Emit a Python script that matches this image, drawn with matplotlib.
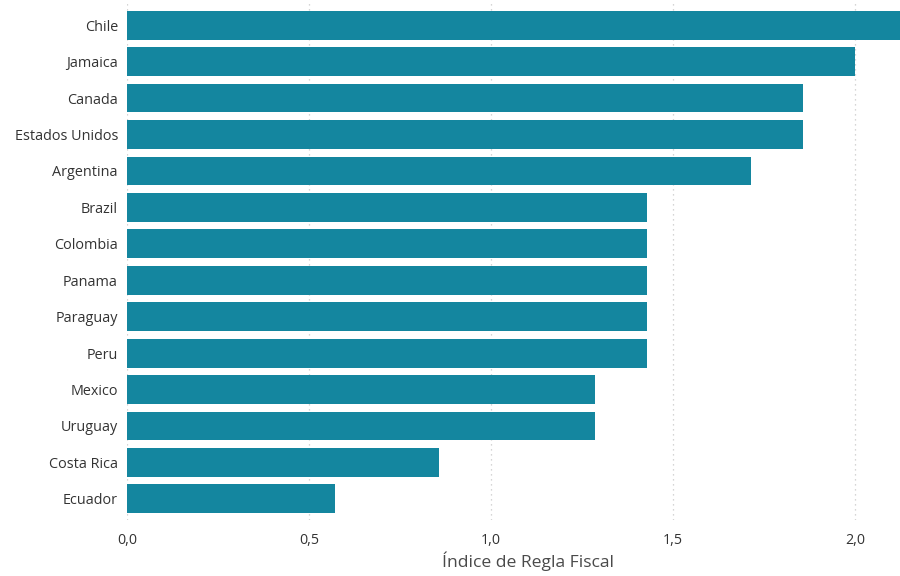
import matplotlib
matplotlib.use("Agg")
import matplotlib.pyplot as plt
from matplotlib.ticker import FuncFormatter

countries = ["Chile", "Jamaica", "Canada", "Estados Unidos", "Argentina", "Brazil",
             "Colombia", "Panama", "Paraguay", "Peru", "Mexico", "Uruguay",
             "Costa Rica", "Ecuador"]
index_values = [2.143, 2.0, 1.857, 1.857, 1.714, 1.429, 1.429, 1.429, 1.429, 1.429,
                1.286, 1.286, 0.857, 0.571]
x_ticks = [0.0, 0.5, 1.0, 1.5, 2.0]

plt.rcParams["font.family"] = ["Open Sans", "DejaVu Sans"]

fig = plt.figure(figsize=(9, 5.76), dpi=100)
ax = fig.add_axes([0.1411, 0.0972, 0.8589, 0.9028])

ypos = list(range(len(countries)))
ax.barh(ypos, index_values, height=0.79, color="#14869F", zorder=2)

ax.set_xlim(0, 2.124)
ax.set_ylim(13.58, -0.69)
ax.set_yticks(ypos)
ax.set_yticklabels(countries, fontsize=10.4, color="#333333")
ax.set_xticks(x_ticks)
ax.xaxis.set_major_formatter(FuncFormatter(lambda v, p: f"{v:.1f}".replace(".", ",")))
ax.tick_params(axis="x", labelsize=10.3, labelcolor="#333333", length=0, pad=9)
ax.tick_params(axis="y", length=0, pad=6.5)

ax.grid(axis="x", linestyle=(0, (1, 3)), color="#C8C8C8", linewidth=0.9, zorder=0)
for s in ax.spines.values():
    s.set_visible(False)

ax.set_xlabel("Índice de Regla Fiscal", fontsize=12.6, color="#4A4A4A",
              labelpad=3, x=0.519)

fig.savefig("out.png", dpi=100)
